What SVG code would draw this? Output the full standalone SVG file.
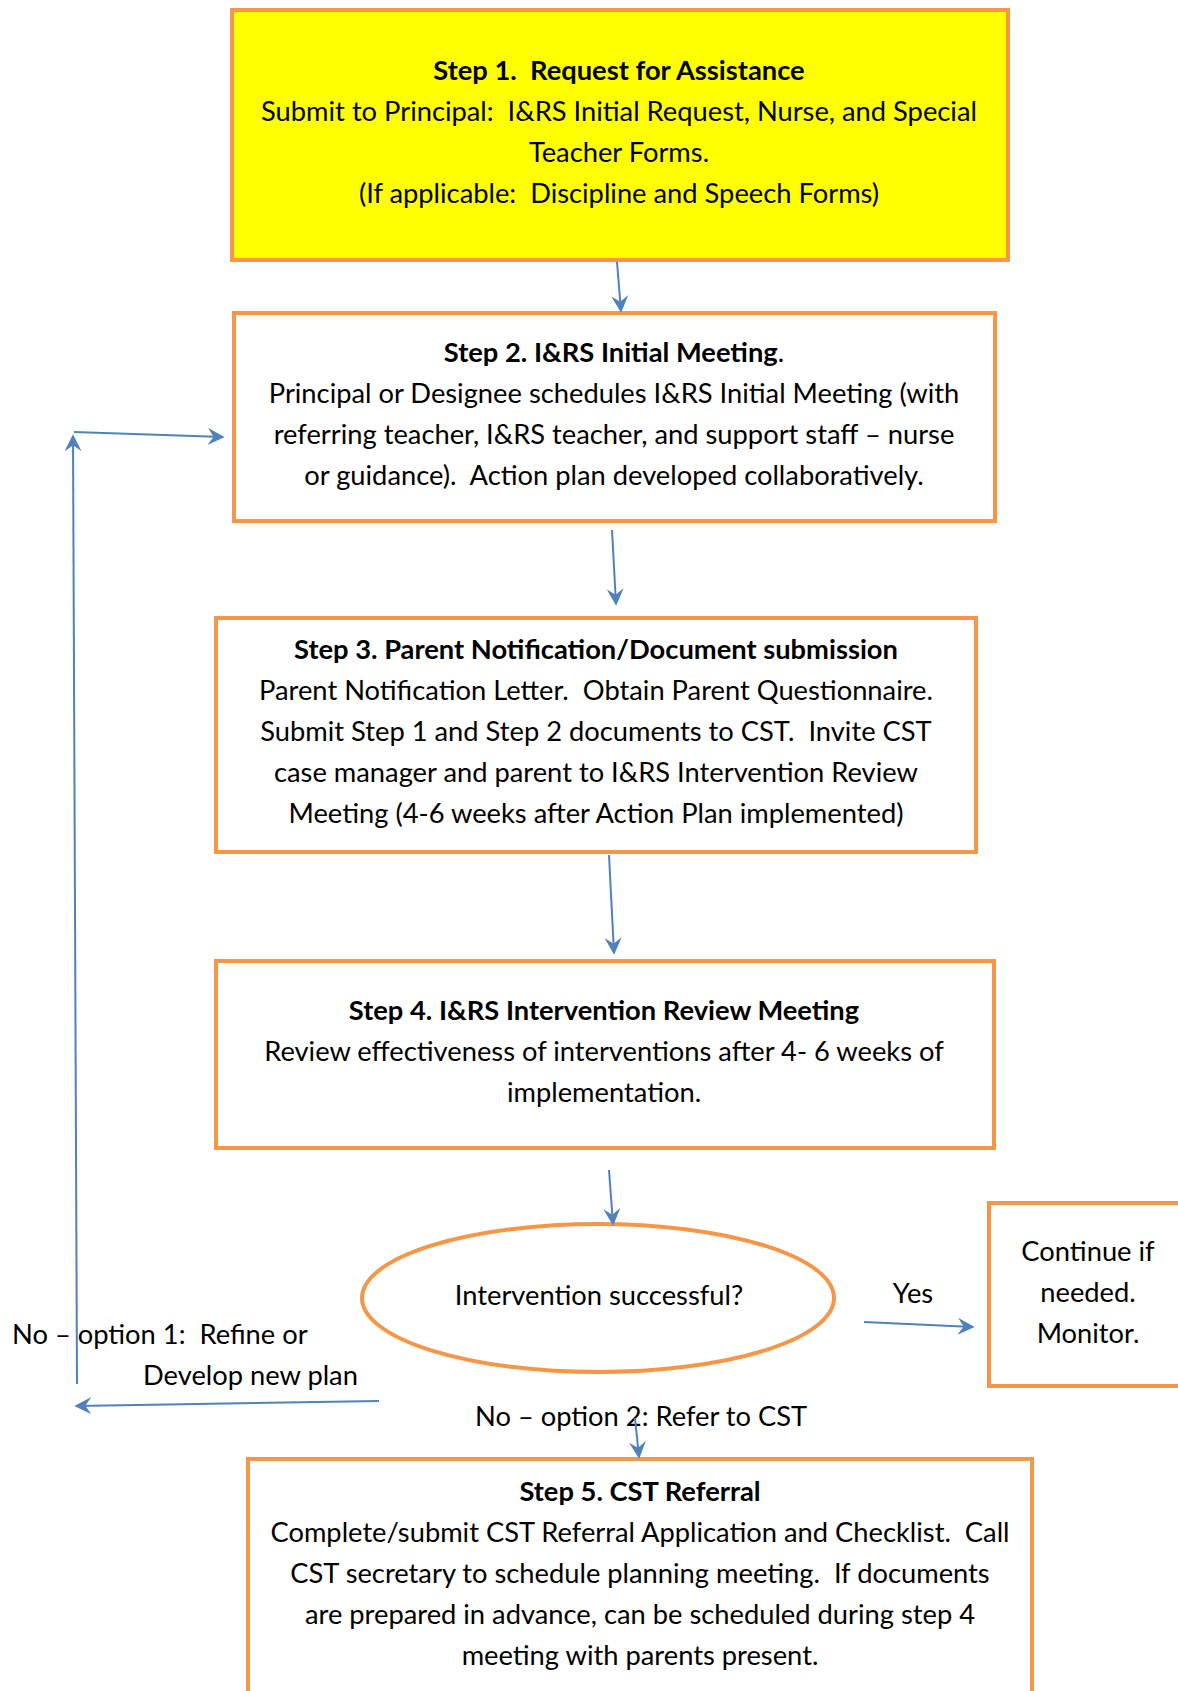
<svg xmlns="http://www.w3.org/2000/svg" width="1178" height="1691" viewBox="0 0 1178 1691">
<style>
text{white-space:pre}
.box{fill:#fff;stroke:#F79646;stroke-width:4}
.t{font-family:Lato,"Liberation Sans",sans-serif;font-size:27.3px;fill:#000;text-anchor:middle}
.l{font-family:Lato,"Liberation Sans",sans-serif;font-size:27.3px;fill:#000}
.b{font-weight:bold}
.c{fill:none;stroke:#4F81BD;stroke-width:2;marker-end:url(#ah)}
</style>
<defs>
<marker id="ah" viewBox="0 0 10 10" refX="9" refY="5" markerWidth="17" markerHeight="17" markerUnits="userSpaceOnUse" orient="auto">
<path d="M0,0 L10,5 L0,10 L3.5,5 z" fill="#4F81BD"/>
</marker>
</defs>
<rect width="1178" height="1691" fill="#fff"/>
<g id="step1">
<rect x="232" y="10" width="776" height="250" fill="#FFFF00" stroke="#F79646" stroke-width="4"/>
<text class="t b" x="619" y="80" xml:space="preserve">Step 1.  Request for Assistance</text>
<text class="t" x="619" y="121" xml:space="preserve">Submit to Principal:  I&amp;RS Initial Request, Nurse, and Special</text>
<text class="t" x="619" y="162">Teacher Forms.</text>
<text class="t" x="619" y="203" xml:space="preserve">(If applicable:  Discipline and Speech Forms)</text>
</g>
<g id="step2">
<rect class="box" x="234" y="313" width="761" height="208"/>
<text class="t" x="614" y="362"><tspan class="b">Step 2. I&amp;RS Initial Meeting</tspan>.</text>
<text class="t" x="614" y="403">Principal or Designee schedules I&amp;RS Initial Meeting (with</text>
<text class="t" x="614" y="444">referring teacher, I&amp;RS teacher, and support staff – nurse</text>
<text class="t" x="614" y="485" xml:space="preserve">or guidance).  Action plan developed collaboratively.</text>
</g>
<g id="step3">
<rect class="box" x="216" y="618" width="760" height="234"/>
<text class="t b" x="596" y="659">Step 3. Parent Notification/Document submission</text>
<text class="t" x="596" y="700" xml:space="preserve">Parent Notification Letter.  Obtain Parent Questionnaire.</text>
<text class="t" x="596" y="741" xml:space="preserve">Submit Step 1 and Step 2 documents to CST.  Invite CST</text>
<text class="t" x="596" y="782">case manager and parent to I&amp;RS Intervention Review</text>
<text class="t" x="596" y="823">Meeting (4-6 weeks after Action Plan implemented)</text>
</g>
<g id="step4">
<rect class="box" x="216" y="961" width="778" height="187"/>
<text class="t b" x="604" y="1020">Step 4. I&amp;RS Intervention Review Meeting</text>
<text class="t" x="604" y="1061">Review effectiveness of interventions after 4- 6 weeks of</text>
<text class="t" x="604" y="1102">implementation.</text>
</g>
<g id="decision">
<ellipse cx="598" cy="1298" rx="236" ry="74" fill="#fff" stroke="#F79646" stroke-width="4"/>
<text class="t" x="599" y="1305">Intervention successful?</text>
</g>
<g id="monitor">
<rect class="box" x="989" y="1203" width="220" height="183"/>
<text class="t" x="1088" y="1261">Continue if</text>
<text class="t" x="1088" y="1302">needed.</text>
<text class="t" x="1088" y="1343">Monitor.</text>
</g>
<g id="step5">
<rect class="box" x="248" y="1459" width="784" height="260"/>
<text class="t b" x="640" y="1501">Step 5. CST Referral</text>
<text class="t" x="640" y="1542" xml:space="preserve">Complete/submit CST Referral Application and Checklist.  Call</text>
<text class="t" x="640" y="1583" xml:space="preserve">CST secretary to schedule planning meeting.  If documents</text>
<text class="t" x="640" y="1624">are prepared in advance, can be scheduled during step 4</text>
<text class="t" x="640" y="1665">meeting with parents present.</text>
</g>
<g id="labels">
<text class="l" x="12" y="1344" xml:space="preserve">No – option 1:  Refine or</text>
<text class="l" x="143" y="1385">Develop new plan</text>
<text class="l" x="913" y="1303" text-anchor="middle">Yes</text>
<text class="l" x="475" y="1426">No – option 2: Refer to CST</text>
</g>
<g id="connectors">
<line class="c" x1="617" y1="262" x2="621" y2="311"/>
<line class="c" x1="612" y1="530" x2="616" y2="604"/>
<line class="c" x1="609" y1="855" x2="614" y2="953"/>
<line class="c" x1="609" y1="1170" x2="613" y2="1224"/>
<line class="c" x1="864" y1="1322" x2="973" y2="1327"/>
<line class="c" x1="77" y1="1384" x2="73" y2="436"/>
<line class="c" x1="74" y1="432" x2="223" y2="437"/>
<line class="c" x1="379" y1="1401" x2="76" y2="1406"/>
<line class="c" x1="635" y1="1418" x2="639" y2="1457"/>
</g>
</svg>
